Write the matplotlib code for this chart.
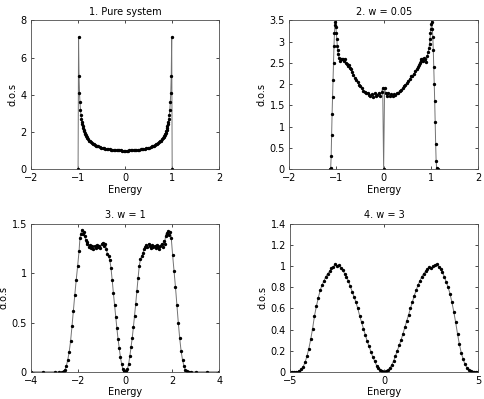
"""
Density of states panels
"""
import matplotlib
matplotlib.use("Agg")
import matplotlib.pyplot as plt

# 1. pure system
e1 = [-1.0, -0.99, -0.98, -0.97, -0.96, -0.95, -0.94, -0.93, -0.92, -0.91, -0.9, -0.89,
      -0.88, -0.87, -0.86, -0.85, -0.84, -0.83, -0.82, -0.8, -0.78, -0.76, -0.74, -0.72,
      -0.7, -0.68, -0.66, -0.64, -0.62, -0.6, -0.57, -0.54, -0.51, -0.48, -0.45, -0.42,
      -0.39, -0.36, -0.33, -0.3, -0.27, -0.24, -0.21, -0.18, -0.15, -0.12, -0.09, -0.06,
      -0.03, 0.0, 0.03, 0.06, 0.09, 0.12, 0.15, 0.18, 0.21, 0.24, 0.27, 0.3,
      0.33, 0.36, 0.39, 0.42, 0.45, 0.48, 0.51, 0.54, 0.57, 0.6, 0.62, 0.64,
      0.66, 0.68, 0.7, 0.72, 0.74, 0.76, 0.78, 0.8, 0.82, 0.83, 0.84, 0.85,
      0.86, 0.87, 0.88, 0.89, 0.9, 0.91, 0.92, 0.93, 0.94, 0.95, 0.96, 0.97,
      0.98, 0.99, 1.0]
d1 = [0.0, 7.1, 5.0, 4.1, 3.6, 3.2, 2.93, 2.72, 2.55, 2.42, 2.3, 2.19,
      2.1, 2.03, 1.96, 1.9, 1.84, 1.79, 1.75, 1.67, 1.6, 1.54, 1.49, 1.44,
      1.40, 1.36, 1.33, 1.30, 1.27, 1.25, 1.22, 1.19, 1.16, 1.14, 1.12, 1.10,
      1.09, 1.07, 1.06, 1.05, 1.04, 1.03, 1.023, 1.016, 1.011, 1.007, 1.004, 1.002,
      1.0, 1.0, 1.0, 1.002, 1.004, 1.007, 1.011, 1.016, 1.023, 1.03, 1.04, 1.05,
      1.06, 1.07, 1.09, 1.10, 1.12, 1.14, 1.16, 1.19, 1.22, 1.25, 1.27, 1.30,
      1.33, 1.36, 1.40, 1.44, 1.49, 1.54, 1.6, 1.67, 1.75, 1.79, 1.84, 1.9,
      1.96, 2.03, 2.1, 2.19, 2.3, 2.42, 2.55, 2.72, 2.93, 3.2, 3.6, 4.1,
      5.0, 7.1, 0.0]

# 2. w = 0.05
e2 = [-1.14, -1.12, -1.11, -1.10, -1.09, -1.08, -1.07, -1.06, -1.05, -1.04, -1.03, -1.02,
      -1.01, -1.0, -0.99, -0.98, -0.97, -0.96, -0.94, -0.92, -0.9, -0.88, -0.86, -0.84,
      -0.82, -0.8, -0.78, -0.76, -0.74, -0.72, -0.7, -0.67, -0.64, -0.61, -0.58, -0.55,
      -0.52, -0.49, -0.46, -0.43, -0.4, -0.37, -0.34, -0.31, -0.28, -0.25, -0.22, -0.19,
      -0.16, -0.13, -0.1, -0.07, -0.04, -0.02, 0.0,
      0.02, 0.04, 0.07, 0.1, 0.13, 0.16, 0.19, 0.22, 0.25, 0.28, 0.31, 0.34,
      0.37, 0.4, 0.43, 0.46, 0.49, 0.52, 0.55, 0.58, 0.61, 0.64, 0.67, 0.7,
      0.72, 0.74, 0.76, 0.78, 0.8, 0.82, 0.84, 0.86, 0.88, 0.9, 0.92, 0.94,
      0.96, 0.97, 0.98, 0.99, 1.0, 1.01, 1.02, 1.03, 1.04, 1.05, 1.06, 1.07,
      1.08, 1.09, 1.10, 1.11, 1.12, 1.14]
d2 = [0.0, 0.02, 0.3, 0.8, 1.3, 1.7, 2.1, 2.5, 2.9, 3.2, 3.4, 3.45,
      3.35, 3.2, 3.05, 2.9, 2.8, 2.7, 2.62, 2.55, 2.6, 2.58, 2.6, 2.55,
      2.58, 2.5, 2.48, 2.42, 2.45, 2.38, 2.35, 2.28, 2.22, 2.15, 2.1, 2.05,
      1.98, 1.95, 1.9, 1.85, 1.82, 1.78, 1.8, 1.75, 1.72, 1.76, 1.7, 1.78,
      1.72, 1.75, 1.8, 1.72, 1.82, 1.92, 0.0,
      1.9, 1.8, 1.72, 1.78, 1.73, 1.76, 1.71, 1.77, 1.74, 1.78, 1.8, 1.84,
      1.86, 1.9, 1.95, 1.98, 2.02, 2.08, 2.12, 2.18, 2.2, 2.25, 2.3, 2.36,
      2.4, 2.45, 2.5, 2.55, 2.58, 2.6, 2.55, 2.62, 2.6, 2.52, 2.65, 2.75,
      2.85, 2.95, 3.05, 3.2, 3.3, 3.42, 3.45, 3.3, 3.1, 2.8, 2.4, 2.0,
      1.6, 1.1, 0.6, 0.2, 0.03, 0.0]

# 3. w = 1
e3 = [-4.0, -3.5, -3.0, -2.8, -2.7, -2.62, -2.56, -2.5, -2.44, -2.38, -2.32, -2.26,
      -2.2, -2.14, -2.08, -2.02, -1.96, -1.92, -1.88, -1.84, -1.8, -1.76, -1.72, -1.68,
      -1.64, -1.6, -1.55, -1.5, -1.45, -1.4, -1.35, -1.3, -1.25, -1.2, -1.15, -1.1,
      -1.05, -1.0, -0.95, -0.9, -0.85, -0.8, -0.75, -0.7, -0.65, -0.6, -0.55, -0.5,
      -0.45, -0.4, -0.35, -0.3, -0.25, -0.2, -0.15, -0.1, -0.05, 0.0,
      0.05, 0.1, 0.15, 0.2, 0.25, 0.3, 0.35, 0.4, 0.45, 0.5, 0.55, 0.6,
      0.65, 0.7, 0.75, 0.8, 0.85, 0.9, 0.95, 1.0, 1.05, 1.1, 1.15, 1.2,
      1.25, 1.3, 1.35, 1.4, 1.45, 1.5, 1.55, 1.6, 1.64, 1.68, 1.72, 1.76,
      1.8, 1.84, 1.88, 1.92, 1.96, 2.02, 2.08, 2.14, 2.2, 2.26, 2.32, 2.38,
      2.44, 2.5, 2.56, 2.62, 2.7, 2.8, 3.0, 3.5, 4.0]
d3 = [0.0, 0.0, 0.0, 0.0, 0.0, 0.005, 0.02, 0.06, 0.12, 0.2, 0.31, 0.46,
      0.62, 0.78, 0.93, 1.07, 1.22, 1.36, 1.40, 1.44, 1.40, 1.42, 1.38, 1.34,
      1.30, 1.32, 1.27, 1.29, 1.26, 1.28, 1.25, 1.28, 1.26, 1.29, 1.27, 1.28,
      1.26, 1.30, 1.31, 1.28, 1.30, 1.25, 1.19, 1.17, 1.13, 1.05, 0.93, 0.80,
      0.68, 0.56, 0.44, 0.33, 0.24, 0.15, 0.08, 0.03, 0.005, 0.0,
      0.005, 0.03, 0.08, 0.16, 0.25, 0.34, 0.45, 0.57, 0.69, 0.82, 0.95, 1.07,
      1.14, 1.17, 1.2, 1.24, 1.27, 1.29, 1.27, 1.30, 1.28, 1.26, 1.29, 1.27,
      1.28, 1.26, 1.29, 1.27, 1.25, 1.28, 1.30, 1.27, 1.33, 1.30, 1.38, 1.41,
      1.40, 1.43, 1.39, 1.42, 1.36, 1.18, 1.02, 0.86, 0.68, 0.50, 0.34, 0.21,
      0.12, 0.06, 0.02, 0.005, 0.0, 0.0, 0.0, 0.0, 0.0]

# 4. w = 3
e4 = [-5.0, -4.9, -4.8, -4.7, -4.6, -4.5, -4.4, -4.3, -4.2, -4.1, -4.0, -3.9,
      -3.8, -3.7, -3.6, -3.5, -3.4, -3.3, -3.2, -3.1, -3.0, -2.9, -2.8, -2.7,
      -2.6, -2.5, -2.4, -2.3, -2.2, -2.1, -2.0, -1.9, -1.8, -1.7, -1.6, -1.5,
      -1.4, -1.3, -1.2, -1.1, -1.0, -0.9, -0.8, -0.7, -0.6, -0.5, -0.4, -0.3,
      -0.2, -0.1, 0.0, 0.1, 0.2, 0.3, 0.4, 0.5, 0.6, 0.7, 0.8, 0.9,
      1.0, 1.1, 1.2, 1.3, 1.4, 1.5, 1.6, 1.7, 1.8, 1.9, 2.0, 2.1,
      2.2, 2.3, 2.4, 2.5, 2.6, 2.7, 2.8, 2.9, 3.0, 3.1, 3.2, 3.3,
      3.4, 3.5, 3.6, 3.7, 3.8, 3.9, 4.0, 4.1, 4.2, 4.3, 4.4, 4.5,
      4.6, 4.7, 4.8, 4.9, 5.0]
d4 = [0.0, 0.0, 0.0, 0.0, 0.003, 0.01, 0.025, 0.05, 0.09, 0.15, 0.22, 0.31,
      0.41, 0.53, 0.62, 0.7, 0.77, 0.82, 0.86, 0.9, 0.93, 0.95, 0.98, 0.99,
      1.02, 1.0, 1.01, 0.98, 0.96, 0.93, 0.9, 0.86, 0.81, 0.76, 0.71, 0.66,
      0.6, 0.53, 0.47, 0.41, 0.35, 0.29, 0.24, 0.19, 0.14, 0.1, 0.06, 0.035,
      0.015, 0.004, 0.0, 0.004, 0.016, 0.037, 0.065, 0.1, 0.15, 0.2, 0.25, 0.3,
      0.36, 0.42, 0.48, 0.54, 0.6, 0.66, 0.72, 0.77, 0.82, 0.86, 0.9, 0.93,
      0.95, 0.97, 0.99, 0.98, 1.0, 1.01, 1.02, 0.99, 0.97, 0.94, 0.9, 0.85,
      0.8, 0.74, 0.66, 0.57, 0.47, 0.36, 0.26, 0.18, 0.12, 0.07, 0.04, 0.015,
      0.005, 0.0, 0.0, 0.0, 0.0]

panels = [
    (e1, d1, '1. Pure system', (-2, 2), [-2, -1, 0, 1, 2], (0, 8), [0, 2, 4, 6, 8]),
    (e2, d2, '2. w = 0.05', (-2, 2), [-2, -1, 0, 1, 2], (0, 3.5),
     [0, 0.5, 1, 1.5, 2, 2.5, 3, 3.5]),
    (e3, d3, '3. w = 1', (-4, 4), [-4, -2, 0, 2, 4], (0, 1.5), [0, 0.5, 1, 1.5]),
    (e4, d4, '4. w = 3', (-5, 5), [-5, 0, 5], (0, 1.4),
     [0, 0.2, 0.4, 0.6, 0.8, 1, 1.2, 1.4]),
]

# axes boxes in figure fractions (left, bottom, width, height)
boxes = [
    [0.064, 0.576, 0.388, 0.373],
    [0.596, 0.576, 0.390, 0.373],
    [0.064, 0.068, 0.388, 0.371],
    [0.598, 0.068, 0.388, 0.371],
]

plt.rcParams['font.family'] = 'DejaVu Sans'
fig = plt.figure(figsize=(4.85, 3.99), dpi=100)

for (e, d, title, xl, xt, yl, yt), box in zip(panels, boxes):
    ax = fig.add_axes(box)
    ax.plot(e, d, color='0.45', lw=0.7, marker='.', ms=2.8,
            mfc='black', mec='black')
    ax.set_xlim(xl)
    ax.set_ylim(yl)
    ax.set_xticks(xt)
    ax.set_yticks(yt)
    ax.set_xticklabels([('%g' % v).replace('-', '\u2212') for v in xt])
    ax.set_yticklabels(['%g' % v for v in yt])
    ax.tick_params(axis='x', pad=3)
    ax.tick_params(axis='y', pad=3)
    ax.tick_params(direction='in', top=True, right=True, length=2.5,
                   width=0.5, labelsize=7)
    for s in ax.spines.values():
        s.set_linewidth(0.6)
        s.set_color('0.3')
    ax.set_title(title, fontsize=7, pad=4)
    ax.set_xlabel('Energy', fontsize=7, labelpad=1)
    ax.set_ylabel('d.o.s', fontsize=7, labelpad=2)

fig.savefig('out.png', dpi=100)
